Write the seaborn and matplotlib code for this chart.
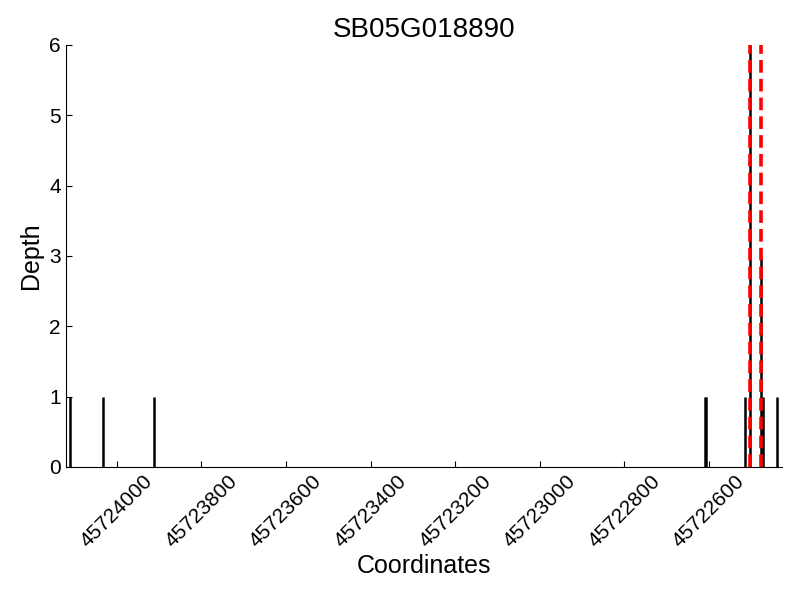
import matplotlib
matplotlib.use('Agg')
import matplotlib.pyplot as plt
import seaborn as sns

# ── DATA ─────────────────────────────────────────────────────────────────────
GENE       = "SB05G018890"
positions  = [45724111, 45724033, 45723912, 45722609, 45722607,
              45722515, 45722503, 45722477, 45722472, 45722438]
depths     = [1, 1, 1, 1, 1, 1, 6, 3, 1, 1]
sites      = [45722503, 45722477]          # red dashed markers
x_start    = 45724121
x_end      = 45722426
xticks     = [45724000, 45723800, 45723600, 45723400,
              45723200, 45723000, 45722800, 45722600]
yticks     = [0, 1, 2, 3, 4, 5, 6]

# ── STYLE ────────────────────────────────────────────────────────────────────
sns.set_style("ticks")
plt.rcParams['font.family'] = ['Liberation Sans', 'DejaVu Sans']
plt.rcParams['xtick.direction'] = 'in'
plt.rcParams['ytick.direction'] = 'in'
plt.rcParams['text.color'] = 'black'
plt.rcParams['axes.labelcolor'] = 'black'
plt.rcParams['xtick.color'] = 'black'
plt.rcParams['ytick.color'] = 'black'

fig, ax = plt.subplots(figsize=(8, 6), dpi=100)
fig.subplots_adjust(left=0.082, right=0.978, top=0.925, bottom=0.222)

ax.vlines(positions, 0, depths, color='black', linewidth=1.8)
for s in sites:
    ax.axvline(s, color='red', linestyle='--', linewidth=2.6, dashes=(3.5, 1.7))

ax.set_xlim(x_start, x_end)
ax.set_ylim(0, 6)
ax.set_xticks(xticks)
ax.set_xticklabels([str(t) for t in xticks], rotation=45, fontsize=15)
ax.set_yticks(yticks)
ax.set_yticklabels([str(t) for t in yticks], fontsize=15)
ax.tick_params(axis='both', length=4, width=0.8, colors='black')

sns.despine(ax=ax, top=True, right=True)
ax.spines['left'].set_color('black')
ax.spines['bottom'].set_color('black')

ax.set_title(GENE, fontsize=20)
ax.set_xlabel('Coordinates', fontsize=18, labelpad=2)
ax.set_ylabel('Depth', fontsize=18, labelpad=4)

plt.savefig('out.png', dpi=100)
plt.close()
